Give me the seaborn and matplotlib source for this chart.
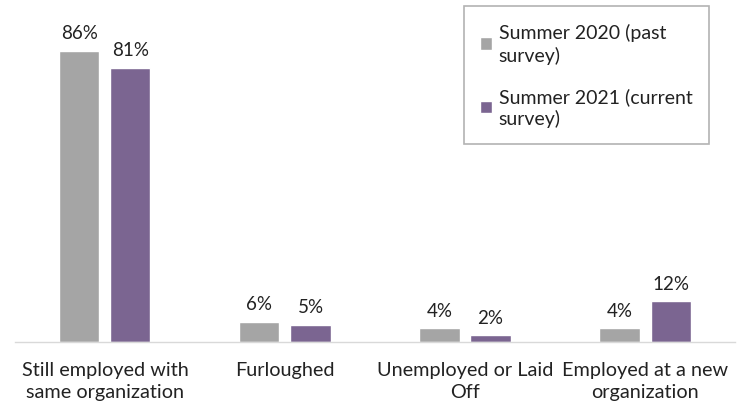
import matplotlib
matplotlib.use("Agg")
import matplotlib.pyplot as plt
import seaborn as sns
import pandas as pd

categories = ["Still employed with\nsame organization", "Furloughed",
              "Unemployed or Laid\nOff", "Employed at a new\norganization"]
series_names = ["Summer 2020 (past\nsurvey)", "Summer 2021 (current\nsurvey)"]
values_2020 = [86, 6, 4, 4]
values_2021 = [81, 5, 2, 12]
colors = ["#A5A5A5", "#7B6591"]

df = pd.DataFrame({
    "cat": categories * 2,
    "series": [series_names[0]] * 4 + [series_names[1]] * 4,
    "val": values_2020 + values_2021,
})

sns.set_theme(style="white")
plt.rcParams["font.family"] = ["Lato", "DejaVu Sans"]

fig = plt.figure(figsize=(7.44, 4.10), dpi=100)
ax = fig.add_axes([0.02, 0.1634, 0.968, 0.80])
sns.barplot(data=df, x="cat", y="val", hue="series", order=categories,
            hue_order=series_names, palette=colors, width=0.567, gap=0.215,
            saturation=1, ax=ax)
ax.set_xlim(-0.5, 3.5)
ax.set_ylim(0, 97)
for cont in ax.containers:
    ax.bar_label(cont, labels=[f"{int(v)}%" for v in cont.datavalues],
                 padding=7, fontsize=13.5, color="#222222")
ax.set_xlabel("")
ax.set_ylabel("")
ax.set_yticks([])
ax.tick_params(axis="x", length=0, labelsize=14.3, colors="#222222", pad=14)
for lbl in ax.get_xticklabels():
    lbl.set_linespacing(1.3)
for s in ["top", "left", "right"]:
    ax.spines[s].set_visible(False)
ax.spines["bottom"].set_color("#D9D9D9")
ax.spines["bottom"].set_linewidth(1)
leg = ax.legend(loc="upper right", bbox_to_anchor=(0.977, 1.053), fontsize=14,
                frameon=True, fancybox=False, edgecolor="#A0A0A0",
                handlelength=0.6, handleheight=0.6, handletextpad=0.35,
                labelspacing=1.2, borderpad=0.85)
leg.get_frame().set_linewidth(1.2)
for t in leg.get_texts():
    t.set_color("#222222")
    t.set_linespacing(1.3)
fig.savefig("out.png", dpi=100)
